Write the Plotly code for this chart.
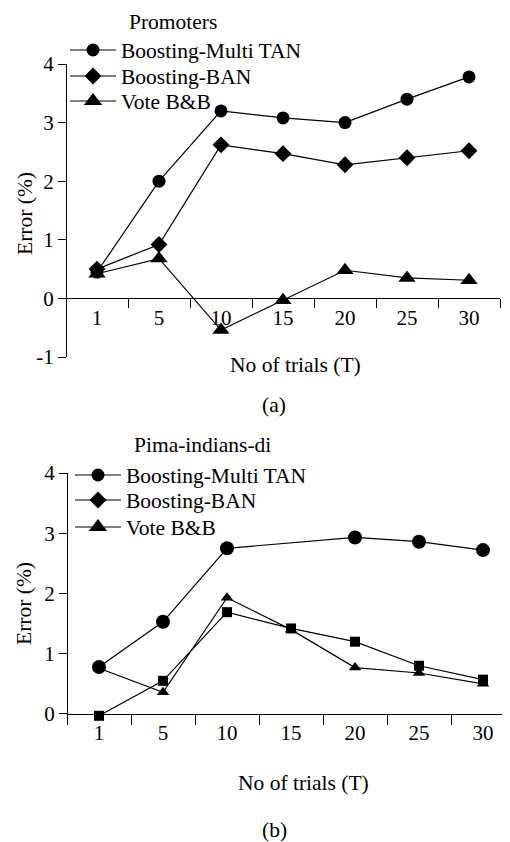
import plotly.graph_objects as go

# The page body adds an 8px margin; the figure is sized/offset to compensate.
WIN_W, WIN_H = 510, 842
OFF = 8
W, H = WIN_W - OFF, WIN_H - OFF
FONT = "Liberation Serif"

trials = ["1", "5", "10", "15", "20", "25", "30"]
series_names = ["Boosting-Multi TAN", "Boosting-BAN", "Vote B&B"]

# (a) Promoters
prom_multi_tan = [0.45, 2.0, 3.2, 3.08, 3.0, 3.4, 3.78]
prom_ban = [0.5, 0.92, 2.62, 2.47, 2.28, 2.4, 2.52]
prom_vote = [0.42, 0.68, -0.54, -0.03, 0.48, 0.35, 0.31]

# (b) Pima-indians-di
pima_multi_tan = [0.78, 1.53, 2.75, None, 2.93, 2.86, 2.72]
pima_ban = [-0.03, 0.55, 1.69, 1.42, 1.2, 0.8, 0.57]
pima_vote = [0.76, 0.36, 1.93, 1.4, 0.77, 0.68, 0.5]

top_yticks = [-1, 0, 1, 2, 3, 4]
top_ytick_labels = ["-1", "0", "1", "2", "3", "4"]
bot_yticks = [0, 1, 2, 3, 4]
bot_ytick_labels = ["0", "1", "2", "3", "4"]


def px_x(p):
    return (p - OFF) / W


def px_y(p):
    return 1 - (p - OFF) / H


fig = go.Figure()
line = dict(color="black", width=1.2)

# top panel data
fig.add_trace(go.Scatter(x=trials, y=prom_multi_tan, mode="lines+markers", line=line,
                         marker=dict(symbol="circle", size=13, color="black"),
                         showlegend=False, xaxis="x", yaxis="y", cliponaxis=False))
fig.add_trace(go.Scatter(x=trials, y=prom_ban, mode="lines+markers", line=line,
                         marker=dict(symbol="diamond", size=13, color="black"),
                         showlegend=False, xaxis="x", yaxis="y", cliponaxis=False))
fig.add_trace(go.Scatter(x=trials, y=prom_vote, mode="lines+markers", line=line,
                         marker=dict(symbol="triangle-up", size=15, color="black"),
                         showlegend=False, xaxis="x", yaxis="y", cliponaxis=False))

# bottom panel data
fig.add_trace(go.Scatter(x=trials, y=pima_ban, mode="lines+markers", line=line,
                         marker=dict(symbol="square", size=10, color="black"),
                         showlegend=False, xaxis="x2", yaxis="y2", cliponaxis=False))
fig.add_trace(go.Scatter(x=trials, y=pima_vote, mode="lines+markers", line=line,
                         marker=dict(symbol="triangle-up", size=11, color="black"),
                         showlegend=False, xaxis="x2", yaxis="y2", cliponaxis=False))
fig.add_trace(go.Scatter(x=trials, y=pima_multi_tan, mode="lines+markers", line=line,
                         connectgaps=True,
                         marker=dict(symbol="circle", size=14, color="black"),
                         showlegend=False, xaxis="x2", yaxis="y2", cliponaxis=False))

# legend entries (one legend per row for exact placement)
leg_syms = ["circle", "diamond", "triangle-up"]
leg_sizes = [13, 13, 16]
top_rows = [50, 76, 101]
bot_rows = [475, 500, 527]
legend_layouts = {}
k = 0
for rows, lx in ((top_rows, 65), (bot_rows, 70)):
    for i, name in enumerate(series_names):
        k += 1
        lname = "legend" if k == 1 else f"legend{k}"
        fig.add_trace(go.Scatter(x=[None], y=[None], mode="lines+markers", name=name,
                                 line=line, legend=lname,
                                 marker=dict(symbol=leg_syms[i], size=leg_sizes[i], color="black"),
                                 xaxis="x", yaxis="y"))
        legend_layouts[lname] = dict(x=px_x(lx), y=px_y(rows[i]), xanchor="left", yanchor="middle",
                                     bgcolor="rgba(0,0,0,0)", borderwidth=0, itemwidth=46,
                                     font=dict(family=FONT, size=21.5, color="black"))

axis_common = dict(showline=True, linecolor="black", linewidth=1, ticks="outside",
                   tickcolor="black", tickwidth=1, showgrid=False, zeroline=False,
                   automargin=False,
                   tickfont=dict(family=FONT, size=21, color="black"))

fig.update_layout(
    width=W, height=H, margin=dict(l=0, r=0, t=0, b=0, autoexpand=False),
    paper_bgcolor="white", plot_bgcolor="white",
    xaxis=dict(**axis_common, type="category", categoryorder="array", categoryarray=trials,
               tickson="boundaries", ticklen=9, range=[-0.5, 6.5],
               domain=[px_x(66), px_x(500)], anchor="free", position=px_y(298.4)),
    yaxis=dict(**axis_common, range=[-1, 4], tickvals=top_yticks, ticktext=top_ytick_labels,
               ticklen=8, domain=[px_y(357), px_y(64)], anchor="free", position=px_x(66)),
    xaxis2=dict(**axis_common, type="category", categoryorder="array", categoryarray=trials,
                tickson="boundaries", ticklen=10, range=[-0.5, -0.5 + 443 / 64],
                domain=[px_x(67), 1.0], anchor="free", position=px_y(714)),
    yaxis2=dict(**axis_common, range=[-0.05, 4], tickvals=bot_yticks, ticktext=bot_ytick_labels,
                ticklen=8, domain=[px_y(717), px_y(473)], anchor="free", position=px_x(67)),
    **legend_layouts,
)

ann_font = dict(family=FONT, size=21.5, color="black")
annotations = [
    dict(text="Promoters", x=px_x(127), y=1.0, xanchor="left", yanchor="top"),
    dict(text="Pima-indians-di", x=px_x(132), y=px_y(445), xanchor="left", yanchor="middle"),
    dict(text="Error (%)", x=px_x(25), y=px_y(214), textangle=-90, xanchor="center", yanchor="middle"),
    dict(text="Error (%)", x=px_x(24), y=px_y(604), textangle=-90, xanchor="center", yanchor="middle"),
    dict(text="No of trials (T)", x=px_x(295), y=px_y(365), xanchor="center", yanchor="middle"),
    dict(text="No of trials (T)", x=px_x(303), y=px_y(783), xanchor="center", yanchor="middle"),
    dict(text="(a)", x=px_x(274), y=px_y(405), xanchor="center", yanchor="middle"),
    dict(text="(b)", x=px_x(274), y=px_y(830), xanchor="center", yanchor="middle"),
]
for a in annotations:
    fig.add_annotation(xref="paper", yref="paper", showarrow=False, font=ann_font, **a)

fig.write_html("out.html")
